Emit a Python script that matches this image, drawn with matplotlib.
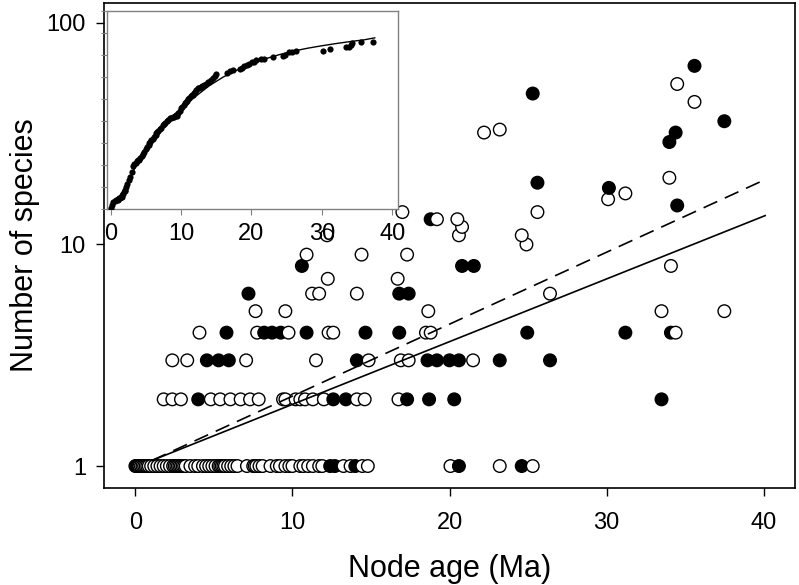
import numpy as np
import matplotlib
matplotlib.use("Agg")
import matplotlib.pyplot as plt

plt.rcParams['font.family'] = ['Liberation Sans', 'DejaVu Sans']

# ---------------- main scatter data (node age, number of species) -------------
open_x = [0.0, 0.05, 0.1, 0.15, 0.25, 0.35, 0.45, 0.55, 0.65, 0.75, 0.85, 1.0, 1.2, 1.4, 1.6, 1.8, 2.0, 2.2,
          2.4, 2.5, 2.6, 2.7, 2.8, 2.9, 3.0, 3.1, 3.2, 3.5, 3.8, 4.0, 4.3, 4.5, 4.7, 4.9, 5.1, 5.3, 5.4, 5.5,
          5.6, 5.7, 5.9, 6.1, 6.3, 6.5, 7.1, 7.5, 7.6, 7.7, 7.9, 8.1, 8.6, 9.0, 9.2, 9.55, 9.8, 10.0, 10.5,
          10.7, 11.0, 11.3, 11.7, 11.9, 13.25, 13.7, 14.45, 14.8, 20.06, 23.2, 25.3,
          1.8, 2.35, 2.9, 4.8, 5.4, 6.05, 6.7, 7.3, 7.85, 9.4, 9.55, 10.2, 10.5, 10.8, 11.3, 12.0, 14.1, 14.6, 16.75,
          2.35, 3.3, 7.05, 11.5, 14.85, 16.9, 17.4, 21.5,
          4.08, 7.75, 9.75, 12.3, 12.6, 18.5, 18.8, 34.4,
          7.65, 9.55, 18.65, 33.5, 37.5,
          11.25, 11.7, 14.1, 26.4,
          12.25, 16.7,
          34.1,
          10.9, 14.4, 17.3,
          24.9,
          12.2, 20.6, 24.6,
          20.8,
          19.2, 20.5,
          17.0, 25.6,
          30.1, 31.2, 34.0, 22.2, 23.2, 35.6, 34.5]
open_y = [1] * 69 + [2] * 19 + [3] * 8 + [4] * 8 + [5] * 5 + [6] * 4 + [7] * 2 + [8] + [9] * 3 + [10] + \
         [11] * 3 + [12] + [13] * 2 + [14] * 2 + [16, 17, 20, 32, 33, 44, 53]

filled_x = [0.2, 12.4, 12.7, 14.0, 20.6, 24.6,
            4.0, 12.6, 13.4, 17.3, 18.7, 20.3, 33.5,
            4.55, 5.3, 5.95, 14.1, 18.6, 19.2, 20.0, 20.6, 23.2, 26.4,
            5.8, 8.2, 8.7, 9.25, 10.9, 14.65, 16.8, 24.95, 31.2, 34.1,
            7.2, 16.8, 17.4,
            10.6, 20.8, 21.55,
            18.8,
            34.5, 30.15, 25.6, 34.0, 34.4, 37.5, 25.3, 35.6]
filled_y = [1] * 6 + [2] * 7 + [3] * 10 + [4] * 10 + [6] * 3 + [8] * 3 + [13] + \
           [15, 18, 19, 29, 32, 36, 48, 64]

# regression lines (end points)
solid_x = [1.06, 40.1]
solid_y = [1.06, 13.5]
dashed_x = [1.06, 39.8]
dashed_y = [1.06, 19.2]

xticks = [0, 10, 20, 30, 40]
yticks = [1, 10, 100]

# ---------------- inset data ---------------------------------------------------
inset_x = [0.0, 0.2, 0.4, 0.6, 0.8, 1.0, 1.1, 1.2, 1.4, 1.6, 1.8, 2.0, 2.1, 2.2, 2.4, 2.6, 2.8, 3.0, 3.2,
           3.4, 3.6, 3.8, 3.9, 4.0, 4.2, 4.4, 4.6, 4.8, 5.0, 5.2, 5.4, 5.5, 5.6, 5.8, 6.0, 6.2, 6.4, 6.5,
           6.6, 6.8, 7.0, 7.2, 7.4, 7.6, 7.8, 8.0, 8.2, 8.4, 8.6, 8.8, 9.0, 9.2, 9.3, 9.4, 9.6, 9.8, 10.0,
           10.2, 10.4, 10.6, 10.7, 10.8, 11.0, 11.2, 11.4, 11.6, 11.7, 11.8, 12.0, 12.2, 12.4, 12.6, 12.8,
           13.0, 13.3, 13.6, 13.9, 14.0, 14.2, 14.5, 14.8, 15.0, 16.6, 16.9, 17.4, 18.4, 18.6, 19.0, 19.3,
           19.6, 20.1, 20.3, 20.7, 21.4, 21.8, 23.0, 24.5, 24.8, 25.4, 25.7, 26.3, 30.1, 31.1, 33.4, 33.8,
           34.1, 34.3, 35.5, 37.3]
inset_y = [0.3, 2.0, 3.3, 3.8, 4.1, 4.3, 4.4, 4.8, 5.2, 5.6, 7.0, 8.0, 8.6, 9.8, 11.2, 13.0, 14.6, 16.8,
           19.5, 20.6, 21.0, 21.6, 22.2, 22.5, 23.0, 24.0, 25.0, 26.0, 27.2, 28.2, 29.2, 30.0, 30.4, 31.3,
           32.0, 32.8, 33.8, 34.4, 34.8, 35.4, 36.2, 37.0, 38.2, 38.6, 39.2, 40.0, 40.6, 41.2, 41.5, 41.6,
           41.8, 42.3, 42.7, 42.2, 43.6, 44.6, 45.7, 46.3, 47.2, 48.2, 48.8, 49.2, 49.8, 50.6, 51.2, 51.9,
           51.8, 52.8, 53.4, 54.3, 54.9, 55.2, 55.6, 55.8, 56.3, 57.0, 57.6, 57.9, 58.6, 59.6, 60.4, 61.3,
           61.7, 62.8, 63.2, 63.6, 64.2, 65.0, 65.5, 66.0, 66.6, 67.0, 67.6, 68.0, 68.3, 68.9, 69.4, 70.0,
           71.2, 71.4, 71.8, 72.0, 72.6, 73.5, 73.8, 74.6, 75.3, 76.0, 76.0]
curve_x = [0, 1, 2, 3, 4, 5, 6, 8, 10, 12, 14, 16, 18, 20, 22, 24, 26, 28, 30, 32, 34, 36, 37.5]
curve_y = [0, 4.5, 9.5, 16, 22, 27.5, 32, 39.5, 45.5, 51, 56, 60, 63.2, 66, 68.3, 70.2, 71.8, 73.1,
           74.2, 75.2, 76.1, 76.9, 77.8]
inset_xticks = [0, 10, 20, 30, 40]
inset_yticks = [0, 10, 20, 30, 40, 50, 60, 70, 80, 90]

# ---------------- figure -------------------------------------------------------
W, H = 799, 585
fig = plt.figure(figsize=(W / 100, H / 100), dpi=100)
ax = fig.add_axes([104 / W, 1 - 488 / H, (795 - 104) / W, (488 - 3) / H])

# draw points in order of x so overlapping white-filled circles stack like the original
pts = [(x, y, 'white') for x, y in zip(open_x, open_y)] + \
      [(x, y, 'black') for x, y in zip(filled_x, filled_y)]
pts.sort(key=lambda p: (p[1], p[0]))
ax.scatter([p[0] for p in pts], [p[1] for p in pts], s=82,
           facecolors=[p[2] for p in pts], edgecolors='black', linewidths=1.0, zorder=3)

ax.plot(solid_x, solid_y, color='black', lw=1.2, zorder=4)
ax.plot(dashed_x, dashed_y, color='black', lw=1.2, dashes=(9, 5), zorder=4)

ax.set_yscale('log')
ax.set_xlim(-2, 42)
ax.set_ylim(0.796, 123)
ax.set_xticks(xticks)
ax.set_xticklabels([str(t) for t in xticks])
ax.set_yticks(yticks)
ax.set_yticklabels([str(t) for t in yticks])
ax.yaxis.set_minor_locator(matplotlib.ticker.NullLocator())
ax.tick_params(axis='both', direction='out', length=6, width=1.0, labelsize=17, colors='black')
ax.tick_params(axis='x', pad=11)
ax.tick_params(axis='y', pad=7)
for sp in ax.spines.values():
    sp.set_linewidth(1.2)
ax.set_xlabel('Node age (Ma)', fontsize=22, labelpad=15)
ax.set_ylabel('Number of species', fontsize=22, va='center')
ax.yaxis.set_label_coords((25 - 104) / (795 - 104), 0.5)

# ---------------- inset --------------------------------------------------------
ins = fig.add_axes([107 / W, 1 - 209 / H, 291 / W, 198 / H])
ins.set_zorder(5)
ins.plot(curve_x, curve_y, color='black', lw=1.0)
ins.scatter(inset_x, inset_y, s=20, color='black', linewidths=0, zorder=3)
ins.set_xlim(-0.5, 40.8)
ins.set_ylim(0, 90)
ins.set_xticks(inset_xticks)
ins.set_xticklabels([str(t) for t in inset_xticks])
ins.set_yticks(inset_yticks)
ins.set_yticklabels([])
ins.tick_params(axis='both', direction='out', length=4, width=0.8, color='#808080',
                labelsize=17, pad=6, labelcolor='black')
for sp in ins.spines.values():
    sp.set_color('#808080')
    sp.set_linewidth(1.0)

fig.savefig('out.png', dpi=100)
